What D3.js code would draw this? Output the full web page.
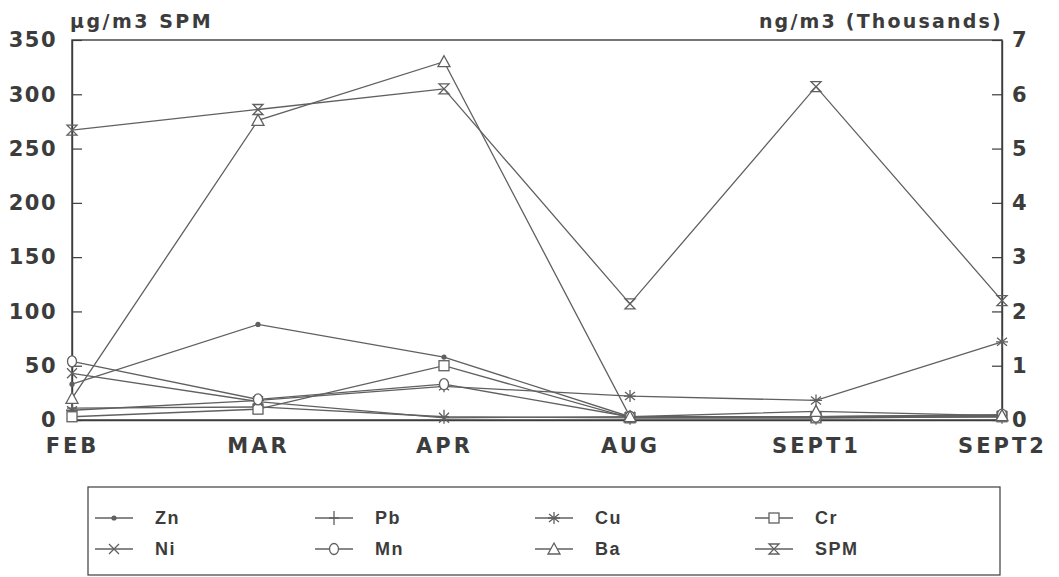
<!DOCTYPE html>
<html>
<head>
<meta charset="utf-8">
<script src="https://cdn.jsdelivr.net/npm/d3@7"></script>
<style>
  html, body { margin: 0; padding: 0; background: #fff; }
  svg { display: block; }
</style>
</head>
<body>
<svg id="chart" width="1059" height="577"></svg>
<script>
// ---- data ----
const months = ["FEB", "MAR", "APR", "AUG", "SEPT1", "SEPT2"];
const leftTicks = [0, 50, 100, 150, 200, 250, 300, 350];
const rightTicks = [0, 1, 2, 3, 4, 5, 6, 7];
// metals in ng/m3 (thousands) — right axis
const Zn = [0.66, 1.76, 1.16, 0.06, 0.06, 0.08];
const Pb = [0.22, 0.24, 0.06, 0.04, 0.04, 0.06];
const Cu = [0.18, 0.36, 0.62, 0.44, 0.36, 1.44];
const Cr = [0.06, 0.20, 1.00, 0.04, 0.04, 0.06];
const Ni = [0.86, 0.34, 0.04, 0.06, 0.06, 0.08];
const Mn = [1.08, 0.38, 0.66, 0.06, 0.06, 0.10];
const Ba = [0.40, 5.52, 6.60, 0.06, 0.16, 0.08];
// SPM in µg/m3 — left axis
const SPM = [267, 286, 305, 107, 307, 110];

const seriesNames = ["Zn", "Pb", "Cu", "Cr", "Ni", "Mn", "Ba", "SPM"];
const seriesValues = [Zn, Pb, Cu, Cr, Ni, Mn, Ba, SPM];
const seriesAxis = ["right", "right", "right", "right", "right", "right", "right", "left"];
const seriesMarker = ["dot", "plus", "star", "square", "cross", "diamond", "triangle", "hourglass"];

// ---- layout ----
const svg = d3.select("#chart");
const L = 72, R = 1002, T = 40, B = 420;
const ink = "#3c3c3c";
const lineInk = "#606060";
const font = "'DejaVu Sans', 'Liberation Sans', sans-serif";

const x = d3.scalePoint().domain(months).range([L, R]);
const yL = d3.scaleLinear().domain([0, 350]).range([B, T]);
const yR = d3.scaleLinear().domain([0, 7]).range([B, T]);

// frame
svg.append("rect").attr("x", L).attr("y", T).attr("width", R - L).attr("height", B - T)
  .attr("fill", "none").attr("stroke", ink).attr("stroke-width", 1.4);

// left axis
const gL = svg.append("g").attr("transform", `translate(${L},0)`)
  .call(d3.axisLeft(yL).tickValues(leftTicks).tickSizeInner(-10).tickSizeOuter(0).tickPadding(15));
// right axis
const gR = svg.append("g").attr("transform", `translate(${R},0)`)
  .call(d3.axisRight(yR).tickValues(rightTicks).tickFormat(d3.format("d"))
    .tickSizeInner(-10).tickSizeOuter(0).tickPadding(10));
// bottom axis
const gB = svg.append("g").attr("transform", `translate(0,${B})`)
  .call(d3.axisBottom(x).tickSize(0).tickPadding(18));

[gL, gR, gB].forEach(g => {
  g.select(".domain").attr("stroke", ink).attr("stroke-width", 1.4);
  g.selectAll(".tick line").attr("stroke", ink).attr("stroke-width", 1.2);
  g.selectAll(".tick text").attr("fill", ink).attr("font-family", font)
    .attr("font-weight", "bold").attr("letter-spacing", "1.5px");
});
gL.selectAll(".tick text").attr("font-size", 21);
gR.selectAll(".tick text").attr("font-size", 21);
gB.selectAll(".tick text").attr("font-size", 21).attr("letter-spacing", "3px");

// axis titles
svg.append("text").attr("x", 70).attr("y", 28).text("µg/m3 SPM")
  .attr("font-family", font).attr("font-weight", "bold").attr("font-size", 19)
  .attr("letter-spacing", "2.5px").attr("fill", ink);
svg.append("text").attr("x", 1003).attr("y", 28).attr("text-anchor", "end").text("ng/m3 (Thousands)")
  .attr("font-family", font).attr("font-weight", "bold").attr("font-size", 19)
  .attr("letter-spacing", "2.2px").attr("fill", ink);

// marker drawing
function drawMarker(g, type, cx, cy) {
  const m = g.append("g").attr("transform", `translate(${cx},${cy})`)
    .attr("stroke", lineInk).attr("stroke-width", 1.3).attr("fill", "none");
  const s = 5;
  switch (type) {
    case "dot":
      m.append("circle").attr("r", 2.6).attr("fill", lineInk).attr("stroke", "none"); break;
    case "plus":
      m.append("path").attr("d", `M0,${-s - 2}V${s + 2}M${-s},0H${s}`); break;
    case "star":
      m.append("path").attr("d", `M0,${-s - 1}V${s + 1}M${-s},${-s + 1}L${s},${s - 1}M${-s},${s - 1}L${s},${-s + 1}M${-s - 1},0H${s + 1}`); break;
    case "square":
      m.append("rect").attr("x", -s).attr("y", -s).attr("width", 2 * s).attr("height", 2 * s).attr("fill", "#fff"); break;
    case "cross":
      m.append("path").attr("d", `M${-s},${-s}L${s},${s}M${-s},${s}L${s},${-s}`); break;
    case "diamond":
      m.append("ellipse").attr("rx", 4.5).attr("ry", 5.5).attr("fill", "#fff"); break;
    case "triangle":
      m.append("path").attr("d", `M0,${-s - 1}L${s + 1},${s}L${-s - 1},${s}Z`).attr("fill", "#fff"); break;
    case "hourglass":
      m.append("path").attr("d", `M${-s},${-s}H${s}L${-s},${s}H${s}Z`); break;
  }
}

// series lines + markers
const plot = svg.append("g");
seriesNames.forEach((name, i) => {
  const ys = seriesAxis[i] === "left" ? yL : yR;
  const vals = seriesValues[i];
  const line = d3.line().x((d, j) => x(months[j])).y(d => ys(d));
  plot.append("path").datum(vals).attr("d", line)
    .attr("fill", "none").attr("stroke", lineInk).attr("stroke-width", 1.3);
});
seriesNames.forEach((name, i) => {
  const ys = seriesAxis[i] === "left" ? yL : yR;
  seriesValues[i].forEach((v, j) => drawMarker(plot, seriesMarker[i], x(months[j]), ys(v)));
});

// legend
const legX = 88, legY = 487, legW = 912, legH = 88;
svg.append("rect").attr("x", legX).attr("y", legY).attr("width", legW).attr("height", legH)
  .attr("fill", "#fff").attr("stroke", ink).attr("stroke-width", 1.2);
const colX = [95, 315, 535, 755];
const rowY = [518, 549];
seriesNames.forEach((name, i) => {
  const cx = colX[i % 4], cy = rowY[Math.floor(i / 4)];
  const g = svg.append("g");
  g.append("line").attr("x1", cx).attr("x2", cx + 38).attr("y1", cy).attr("y2", cy)
    .attr("stroke", lineInk).attr("stroke-width", 1.4);
  drawMarker(g, seriesMarker[i], cx + 19, cy);
  g.append("text").attr("x", cx + 60).attr("y", cy + 6).text(name)
    .attr("font-family", "'Liberation Sans Narrow', 'Liberation Sans', sans-serif")
    .attr("font-weight", "bold").attr("font-size", 18).attr("fill", ink)
    .attr("letter-spacing", "1.5px");
});
</script>
</body>
</html>
